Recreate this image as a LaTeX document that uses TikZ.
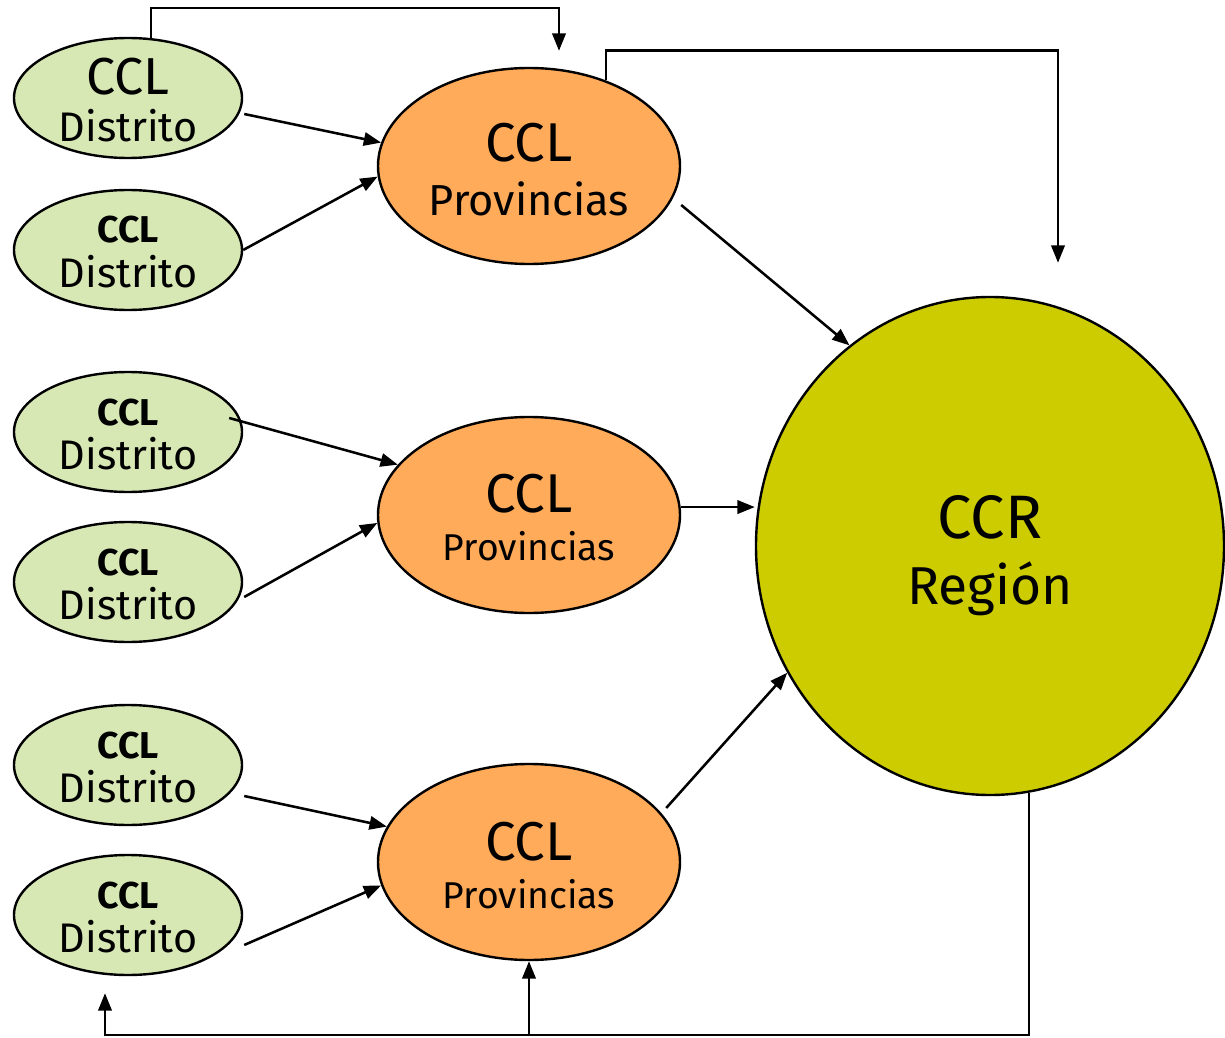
\documentclass[tikz,border=0pt]{standalone}
\usepackage{fontspec}
\setmainfont{Fira Sans}
\usetikzlibrary{arrows.meta,calc,shapes.geometric}
\definecolor{distgreen}{HTML}{D7E8B4}
\definecolor{provorange}{HTML}{FFAB59}
\definecolor{regolive}{HTML}{CCCC00}
\begin{document}
\begin{tikzpicture}[x=0.75pt,y=-0.75pt,
  distnode/.style={ellipse,draw,line width=1.8pt,fill=distgreen,inner sep=0pt,minimum width=171pt,minimum height=90pt},
  provnode/.style={ellipse,draw,line width=1.8pt,fill=provorange,inner sep=0pt,minimum width=226.5pt,minimum height=147pt},
  regnode/.style={ellipse,draw,line width=1.8pt,fill=regolive,inner sep=0pt,minimum width=351pt,minimum height=373.5pt},
  lbl/.style={anchor=base,inner sep=0pt},
  arr/.style={line width=1.9pt,-{Triangle[length=13pt,width=10pt]}}]
\useasboundingbox (0,0) rectangle (1225,1038);
% nodes
\node[distnode] (g1) at (128,98) {};
\node[distnode] (g2) at (128,250) {};
\node[distnode] (g3) at (128,432) {};
\node[distnode] (g4) at (128,582) {};
\node[distnode] (g5) at (128,765) {};
\node[distnode] (g6) at (128,915) {};
\node[provnode] (o1) at (529,166) {};
\node[provnode] (o2) at (529,515) {};
\node[provnode] (o3) at (529,862) {};
\node[regnode] (cr) at (990,546) {};
% labels
\node[lbl,font=\fontsize{39}{41}\selectfont] (g1a) at ($(g1)+(0,-3)$) {CCL};
\node[lbl,font=\fontsize{31}{33}\selectfont] (g1b) at ($(g1)+(0,44)$) {Distrito};
\foreach \n in {g2,g3,g4,g5,g6}{
  \node[lbl,font=\fontsize{28}{30}\selectfont\bfseries] (\n a) at ($(\n)+(0,-7)$) {CCL};
  \node[lbl,font=\fontsize{31}{33}\selectfont] (\n b) at ($(\n)+(0,37)$) {Distrito};
}
\node[lbl,font=\fontsize{41}{43}\selectfont] (o1a) at ($(o1)+(0,-4)$) {CCL};
\node[lbl,font=\fontsize{32.5}{34}\selectfont] (o1b) at ($(o1)+(0,49)$) {Provincias};
\node[lbl,font=\fontsize{41}{43}\selectfont] (o2a) at ($(o2)+(0,-3)$) {CCL};
\node[lbl,font=\fontsize{28}{30}\selectfont] (o2b) at ($(o2)+(0,45)$) {Provincias};
\node[lbl,font=\fontsize{41}{43}\selectfont] (o3a) at ($(o3)+(0,-2)$) {CCL};
\node[lbl,font=\fontsize{28}{30}\selectfont] (o3b) at ($(o3)+(0,46)$) {Provincias};
\node[lbl,font=\fontsize{46}{48}\selectfont] (cra) at ($(cr)+(0,-8)$) {CCR};
\node[lbl,font=\fontsize{40}{42}\selectfont] (crb) at ($(cr)+(0,58)$) {Región};
% free ends
\coordinate (t1) at ($(o1.north)+(30,-16)$);
\coordinate (t2) at ($(cr.north)+(68,-33)$);
\coordinate (t3) at ($(g6.south)+(-23,17)$);
\coordinate (bl) at (105,1035);
% connectors
\draw[arr] ($(g1.east)+(1,16)$) -- (o1.171);
\draw[arr] (g2.east) -- (o1.184);
\draw[arr] ($(o1.east)+(0,39)$) -- (cr.125);
\draw[arr] ($(g3.east)+(-14,-14)$) -- (o2.159);
\draw[arr] ($(g4.east)+(1,15)$) -- (o2.183);
\draw[arr] (o2.3) -- (o2.3 -| cr.west);
\draw[arr] ($(g5.east)+(1,31)$) -- (o3.166);
\draw[arr] ($(g6.east)+(1,30)$) -- (o3.189);
\draw[arr] ($(o3.east)+(-15,-54)$) -- (cr.212);
\draw[arr] (g1.69.5) -- ++(0,-30) -| (t1);
\draw[arr] (o1.48.6) -- ++(0,-30) -| (t2);
\draw[arr] (cr.-81.5) |- (bl) -- (t3);
\draw[arr] (o3.south |- bl) -- (o3.south);
\end{tikzpicture}
\end{document}
